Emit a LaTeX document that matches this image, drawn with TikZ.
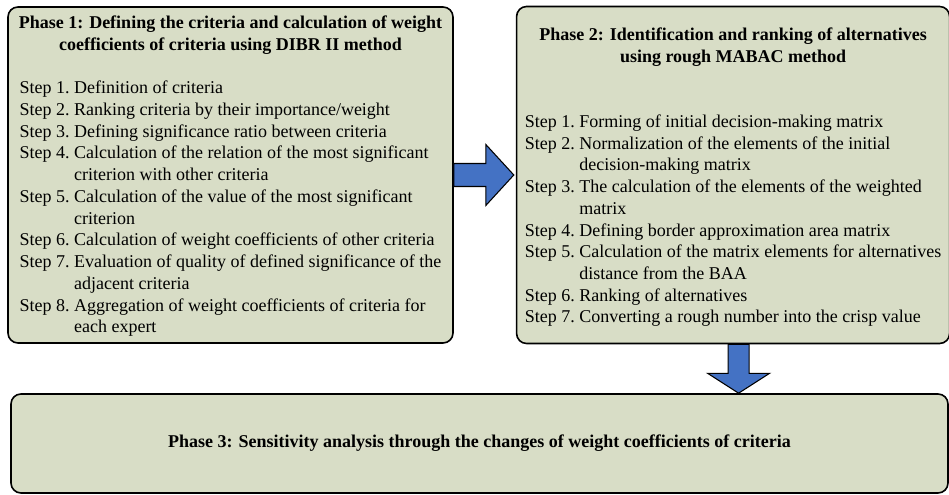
\documentclass[tikz,border=0pt]{standalone}
\usepackage{fontspec}
\setmainfont{Liberation Serif}
\usetikzlibrary{positioning,calc}
\definecolor{phFill}{HTML}{D8DDC6}
\definecolor{phArrow}{HTML}{4472C4}
\tikzset{
  phasebox/.style={rectangle,rounded corners=7.5pt,
    draw=black,line width=1.2pt,fill=phFill,
    align=center,inner sep=0pt,
    font=\fontsize{13.5}{16.3}\selectfont},
  fatarr/.style={draw=black,line width=0.8pt,fill=phArrow,line join=miter},
}

\begin{document}
\begin{tikzpicture}[x=0.75pt,y=0.75pt]
  \useasboundingbox (0,0) rectangle (949,495);

  \node[phasebox,minimum width=333.75pt,minimum height=252pt] (p1) at (230.5,320)
    {\rule{0pt}{13.5pt}\textbf{Phase 1: Defining the criteria and calculation of weight}\\
     \textbf{coefficients of criteria using DIBR II method}\\[16.3pt]
     \begin{tabular}[t]{@{}l@{\ }l@{}}
       Step 1. & Definition of criteria\\
       Step 2. & Ranking criteria by their importance/weight\\
       Step 3. & Defining significance ratio between criteria\\
       Step 4. & Calculation of the relation of the most significant\\
               & criterion with other criteria\\
       Step 5. & Calculation of the value of the most significant\\
               & criterion\\
       Step 6. & Calculation of weight coefficients of other criteria\\
       Step 7. & Evaluation of quality of defined significance of the\\
               & adjacent criteria\\
       Step 8. & Aggregation of weight coefficients of criteria for\\
               & each expert
     \end{tabular}};

  \node[phasebox,minimum width=324.75pt,minimum height=252.75pt,right=46.5pt of p1] (p2)
    {\rule{0pt}{15pt}\textbf{Phase 2: Identification and ranking of alternatives}\\
     \textbf{using rough MABAC method}\\[32.6pt]
     \begin{tabular}[t]{@{}l@{\ }l@{}}
       Step 1. & Forming of initial decision-making matrix\\
       Step 2. & Normalization of the elements of the initial\\
               & decision-making matrix\\
       Step 3. & The calculation of the elements of the weighted\\
               & matrix\\
       Step 4. & Defining border approximation area matrix\\
       Step 5. & Calculation of the matrix elements for alternatives\\
               & distance from the BAA\\
       Step 6. & Ranking of alternatives\\
       Step 7. & Converting a rough number into the crisp value
     \end{tabular}};

  \node[phasebox,minimum width=702.75pt,minimum height=74.25pt] (p3) at (479.5,51.5)
    {\textbf{Phase 3: Sensitivity analysis through the changes of weight coefficients of criteria}};

  % block arrows between the phases
  \draw[fatarr] ($(p1.east)+(0,11.5)$) -- ++(32,0) -- ++(0,19)
    -- ($(p2.west)+(-2,0)$) -- ($(p1.east)+(32,-30.5)$) -- ++(0,19)
    -- ($(p1.east)+(0,-11.5)$) -- cycle;

  \coordinate (d) at ($(p2.south)+(5.5,0)$);
  \draw[fatarr] ($(d)+(-10.5,0)$) -- ++(0,-29) -- ++(-20.5,0)
    -- (d |- p3.north) -- ($(d)+(31,-29)$) -- ++(-20.5,0)
    -- ($(d)+(10.5,0)$) -- cycle;

\end{tikzpicture}
\end{document}
